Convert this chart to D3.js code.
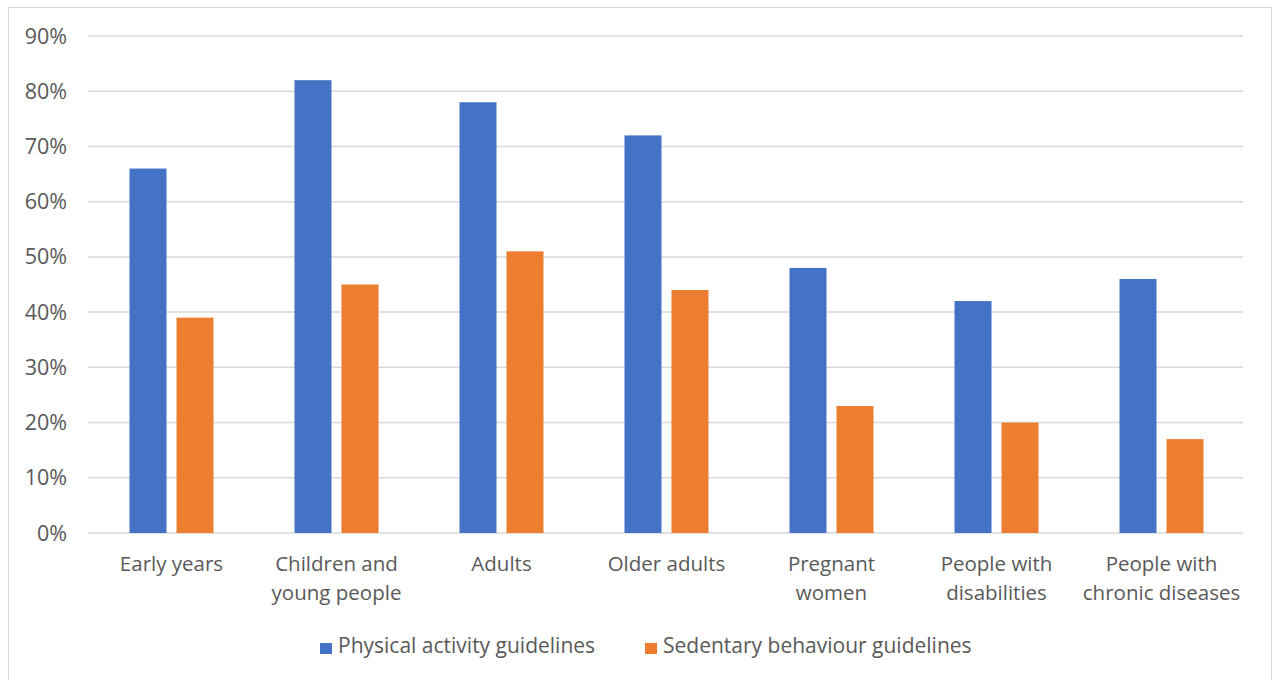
<!DOCTYPE html>
<html><head><meta charset="utf-8">
<script src="https://cdn.jsdelivr.net/npm/d3@7"></script>
<style>
html,body{margin:0;padding:0;background:#fff;}
text{font-family:"Open Sans","Noto Sans",sans-serif;fill:#595959;}
</style></head>
<body><svg id="c" width="1273" height="680"></svg>
<script>
const categories = [["Early years"],["Children and","young people"],["Adults"],["Older adults"],["Pregnant","women"],["People with","disabilities"],["People with","chronic diseases"]];
const seriesNames = ["Physical activity guidelines","Sedentary behaviour guidelines"];
const physical = [66,82,78,72,48,42,46];
const sedentary = [39,45,51,44,23,20,17];
const yTicks = [0,10,20,30,40,50,60,70,80,90];
const colors = ["#4472C4","#ED7D31"];

const svg = d3.select("#c");
svg.append("rect").attr("x",8.5).attr("y",7.5).attr("width",1263).attr("height",680).attr("fill","#fff").attr("stroke","#d9d9d9");

const x0 = d3.scaleBand().domain(d3.range(categories.length)).range([88,1243]).paddingInner(0).paddingOuter(0);
const y = d3.scaleLinear().domain([0,90]).range([533,36]);

svg.append("g").selectAll("line").data(yTicks).join("line")
  .attr("x1",88).attr("x2",1243).attr("y1",d=>y(d)).attr("y2",d=>y(d))
  .attr("stroke","#d9d9d9").attr("stroke-width",1.5);

svg.append("g").selectAll("text").data(yTicks).join("text")
  .attr("x",67).attr("y",d=>y(d)).attr("dy","0.35em").attr("text-anchor","end")
  .attr("font-size",21.5).text(d=>d+"%");

const barW = 37, gap = 10;
const series = [physical, sedentary];
series.forEach((vals,si)=>{
  svg.append("g").selectAll("rect").data(vals).join("rect")
    .attr("x",(d,i)=>x0(i)+x0.bandwidth()/2 - barW - gap/2 + si*(barW+gap) + 1)
    .attr("y",d=>y(d)).attr("width",barW).attr("height",d=>y(0)-y(d))
    .attr("fill",colors[si]);
});

const lab = svg.append("g");
categories.forEach((lines,i)=>{
  const cx = x0(i)+x0.bandwidth()/2+1;
  const t = lab.append("text").attr("x",cx).attr("y",564).attr("text-anchor","middle").attr("font-size",20.5);
  lines.forEach((l,j)=>t.append("tspan").attr("x",cx).attr("dy",j?29:"0.35em").text(l));
});

const legX = [320,645];
seriesNames.forEach((n,i)=>{
  svg.append("rect").attr("x",legX[i]).attr("y",643).attr("width",12).attr("height",11).attr("fill",colors[i]);
  svg.append("text").attr("x",legX[i]+18).attr("y",646).attr("dy","0.35em").attr("font-size",21).text(n);
});
</script></body></html>
